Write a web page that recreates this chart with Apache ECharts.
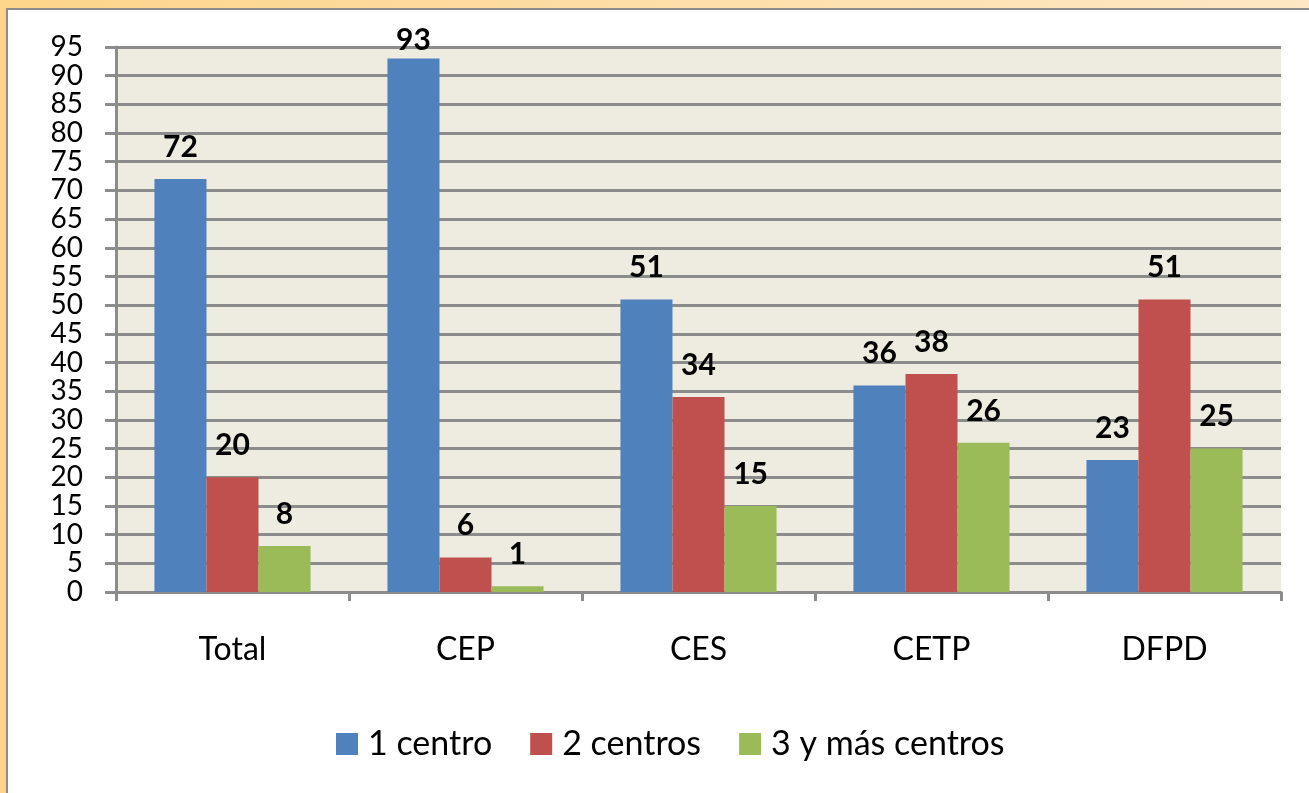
<!DOCTYPE html>
<html>
<head>
<meta charset="utf-8">
<script src="https://cdn.jsdelivr.net/npm/echarts@6/dist/echarts.min.js"></script>
<style>
html,body{margin:0;padding:0;width:1309px;height:793px;overflow:hidden;background:linear-gradient(90deg,#fdd58a,#fde7c4);}
#frame{position:absolute;left:6px;top:8px;right:0;bottom:0;background:#fff;border-left:2px solid #8c8c8c;border-top:2px solid #8c8c8c;}
#chart{position:absolute;left:0;top:0;width:1301px;height:783px;}
</style>
</head>
<body>
<div id="frame"><div id="chart"></div></div>
<script>
const categories = ['Total', 'CEP', 'CES', 'CETP', 'DFPD'];
const seriesNames = ['1 centro', '2 centros', '3 y más centros'];
const unCentro = [72, 93, 51, 36, 23];
const dosCentros = [20, 6, 34, 38, 51];
const tresMas = [8, 1, 15, 26, 25];
const yTicks = [0, 5, 10, 15, 20, 25, 30, 35, 40, 45, 50, 55, 60, 65, 70, 75, 80, 85, 90, 95];

const colors = ['#4F81BD', '#C0504D', '#9BBB59'];
const font = 'Lato, "Liberation Sans", sans-serif';
const yMax = 95;

const chart = echarts.init(document.getElementById('chart'), null, {renderer: 'canvas'});
function mk(name, data, color) {
  return {
    name: name, type: 'bar', barGap: '0%', barCategoryGap: '33%',
    data: data.map(v => v > yMax - 5 ? {value: v, label: {distance: 3}} : v),
    itemStyle: {color: color},
    label: {show: true, position: 'top', distance: 17, color: '#000', fontWeight: 'bold', fontSize: 30, fontFamily: font},
    animation: false
  };
}
chart.setOption({
  animation: false,
  textStyle: {fontFamily: font},
  grid: {left: 108, right: 28, top: 37, bottom: 201, backgroundColor: '#EEECE1', show: true, borderWidth: 0},
  legend: {
    data: seriesNames, bottom: 27, left: 323, itemWidth: 22, itemHeight: 22, itemGap: 38,
    icon: 'rect', textStyle: {fontSize: 34, color: '#000', fontFamily: font, padding: [0, 0, 0, 5]}
  },
  xAxis: {
    type: 'category', data: categories,
    axisLine: {show: true, lineStyle: {color: '#8c8c8c', width: 3}},
    axisTick: {show: true, length: 9, lineStyle: {color: '#8c8c8c', width: 3}},
    axisLabel: {fontSize: 32, color: '#000', margin: 42, fontFamily: font}
  },
  yAxis: {
    type: 'value', min: 0, max: yMax, interval: 5,
    axisLine: {show: true, lineStyle: {color: '#8c8c8c', width: 3}},
    axisTick: {show: true, length: 11, lineStyle: {color: '#8c8c8c', width: 3}},
    splitLine: {show: true, lineStyle: {color: '#8c8c8c', width: 3}},
    axisLabel: {fontSize: 28, lineHeight: 24, color: '#000', margin: 33, fontFamily: font,
      showMinLabel: true, showMaxLabel: true, hideOverlap: false,
      formatter: v => yTicks.includes(v) ? String(v) : ''}
  },
  series: [mk(seriesNames[0], unCentro, colors[0]), mk(seriesNames[1], dosCentros, colors[1]), mk(seriesNames[2], tresMas, colors[2])]
});
</script>
</body>
</html>
